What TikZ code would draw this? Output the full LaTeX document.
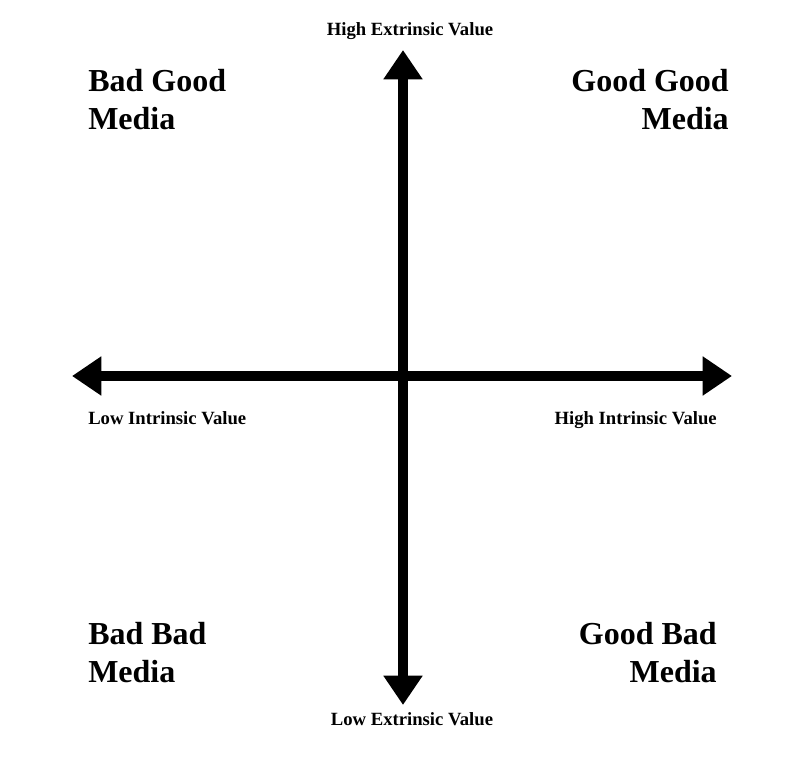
\documentclass[tikz,border=0pt]{standalone}
\usepackage{fontspec}
\setmainfont{Liberation Serif}
\usetikzlibrary{arrows.meta}
\begin{document}
\begin{tikzpicture}[x=0.75pt,y=-0.75pt,
  big/.style={font=\bfseries\fontsize{24}{28.5}\selectfont},
  small/.style={font=\bfseries\fontsize{14}{17}\selectfont,inner sep=0pt},
  axis/.style={line width=7.5pt,{Triangle[width=28pt,length=22pt]}-{Triangle[width=28pt,length=22pt]}}]
\fill[white] (0,0) rectangle (800,770);
\coordinate (T) at (403,50);
\coordinate (B) at (403,705);
\coordinate (L) at (72,376);
\coordinate (R) at (732,376);
\draw[axis] (B) -- (T);
\draw[axis] (L) -- (R);
\node[small,anchor=base] (he) at (410,36) {High Extrinsic Value};
\node[small,anchor=base] (le) at (412,725) {Low Extrinsic Value};
\node[small,anchor=base west] (li) at (88,424) {Low Intrinsic Value};
\node[small,anchor=base east] (hi) at (717,424) {High Intrinsic Value};
\node[big,anchor=base west,align=left,inner sep=0pt] (bg) at (88,130) {Bad Good\\Media};
\node[big,anchor=base east,align=right,inner sep=0pt] (gg) at (729,130) {Good Good\\Media};
\node[big,anchor=base west,align=left,inner sep=0pt] (bb) at (88,682) {Bad Bad\\Media};
\node[big,anchor=base east,align=right,inner sep=0pt] (gb) at (717,682) {Good Bad\\Media};
\end{tikzpicture}
\end{document}
